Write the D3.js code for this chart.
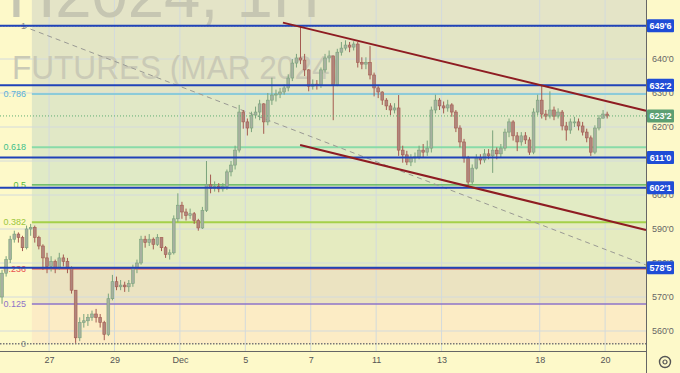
<!DOCTYPE html>
<html>
<head>
<meta charset="utf-8">
<script src="https://cdn.jsdelivr.net/npm/d3@7"></script>
<style>
  html, body { margin: 0; padding: 0; background: #fdf9c9; }
  svg { display: block; font-family: "Liberation Sans", Arial, sans-serif; }
</style>
</head>
<body>
<svg id="chart" width="680" height="373"></svg>
<script>
// hourly bars, open = previous close
const firstOpen = 570;
const closes = [
  577, 581, 587, 588.5, 587.5, 584.5, 590, 590.5, 587.5, 585,
  581.5, 579, 580.5, 578.5, 581.5, 580.5, 578.5, 572, 558, 562.5,
  563, 564, 565, 564, 562.5, 559, 569.5, 574.5, 573, 573.5,
  573, 574, 578.5, 580, 587, 586, 587, 585.5, 587.5, 584.5,
  582.5, 583, 593, 597, 595, 594, 594.5, 592.5, 590.3, 595.5,
  603, 602, 602.5, 601.8, 602.5, 606.8, 608.8, 613.2, 624.4, 621.5,
  619.7, 623.5, 624.4, 626.8, 621.5, 627.9, 629.4, 629.7, 630.3, 631.5,
  634.4, 638.8, 640.3, 639.7, 636.8, 632, 632.6, 632.4, 636.8, 640.3,
  640.9, 632.4, 642, 643.2, 644.1, 643.5, 644.4, 639, 638.5, 639,
  635.3, 631.5, 630.3, 627.9, 626.2, 625, 625.6, 613.2, 611.8, 609.7,
  610.9, 611.2, 613.2, 612.6, 613.8, 625, 627.9, 626.2, 625.6, 626.5,
  624.4, 619.7, 615.6, 610.9, 603.8, 607.9, 610.9, 610.3, 612.1, 611.5,
  613.2, 612.1, 613.8, 618.5, 621.5, 617.4, 615.6, 617.4, 616.2, 612.6,
  624.4, 627.9, 623.8, 623.2, 625, 623.2, 624.4, 620.3, 619.1, 621.5,
  621.5, 620.3, 618.5, 616.8, 612.6, 619.7, 622.6, 623.8, 623.25
];
const highs = [
  578, 582, 588, 589.5, 589, 588, 591, 591.5, 591, 588,
  585.5, 583, 582, 581, 583, 582.5, 581.5, 579, 572, 564,
  565, 565, 566, 566.5, 565, 563, 571, 576.5, 576, 575,
  574.5, 575, 579.5, 581, 588, 588, 588.5, 587.5, 588.5, 587.5,
  585, 584, 594, 600.5, 598, 596, 596, 595, 593, 596.5,
  610, 606, 604, 603.5, 603.5, 607.5, 610, 614.5, 626.5, 625,
  622.5, 624.5, 626, 628, 627, 630, 634.5, 631, 631.5, 632.5,
  635.5, 640, 641.5, 649.75, 641.5, 637, 634, 633.8, 637.5, 641.5,
  642.5, 641, 643, 645, 645.5, 645, 645.2, 645, 640.5, 640.5,
  643.8, 636, 632, 630.5, 628.5, 627, 627, 629.4, 614.5, 613,
  612, 612.5, 614.5, 615, 616, 626, 629.5, 628.5, 627.5, 628,
  627, 625, 620.5, 616.5, 611.5, 609, 612, 612, 613.5, 613.5,
  619, 614, 615, 619.5, 622.5, 622, 618.5, 618.5, 618.5, 617,
  625.5, 629.5, 632.2, 625, 630.5, 626, 625.5, 625, 621.5, 622.5,
  623, 622.5, 621.5, 619.5, 617.5, 620.5, 623.5, 625, 624.5
];
const lows = [
  568, 576, 580, 586, 586, 583.5, 584, 588, 586, 584,
  578, 577, 577.5, 577, 578, 579, 577, 571, 556.5, 557,
  561, 561.5, 563, 562.5, 561, 557.3, 558.5, 569, 572, 572,
  571.5, 571.5, 573, 577, 579.5, 584.5, 585, 584, 585, 583.5,
  581.5, 581, 582.5, 592, 593, 592.5, 593, 591.5, 589.5, 590,
  595, 600.5, 601, 600.8, 601, 601.5, 605.5, 607.5, 612.5, 619.5,
  617.5, 618.5, 622.5, 622, 618, 620.5, 626.5, 627.5, 628.5, 629.5,
  630.5, 633.5, 637.5, 638.5, 635, 630.5, 631, 631, 631.5, 636,
  639, 622, 632, 641, 642.5, 642, 642.5, 637.5, 637, 637,
  634, 629, 628.5, 626.5, 625, 623.5, 624, 611.5, 609.5, 608.8,
  608.5, 609.5, 610.5, 611, 611.5, 612.5, 624, 625, 624, 624.5,
  623, 618.5, 614, 609.5, 602.2, 603, 607.5, 609, 609.5, 610.5,
  606.5, 610.5, 611, 613, 617, 616, 612.9, 614.5, 615, 611.8,
  612, 623.5, 622.5, 622, 622.5, 622, 622.5, 619, 616, 618,
  620, 619, 617.5, 615.5, 611.5, 612, 619, 622.5, 622.5
];

// x axis: bar slots, day labels at session starts
const dateTicks = [12, 28, 44, 60, 76, 92, 108, 132, 148];
const dateLabels = ['27', '29', 'Dec', '5', '7', '11', '13', '18', '20'];
const priceTicks = [560, 570, 580, 590, 600, 610, 620, 630, 640];

// fibonacci retracement
const fibLow = 556.25;
const fibHigh = 649.75;
const fibStart = 7.8;
const fibLevels = [1, 0.786, 0.618, 0.5, 0.382, 0.236, 0.125, 0];
const fibLineColors = ['#8a8a8a', '#8ccbd8', '#88dba8', '#4caf50', '#a5d04a', '#e04848', '#8e74c8', '#777777'];
const fibTextColors = ['#8a8a8a', '#5bb0d8', '#3fc08a', '#58bb3a', '#9cc63a', '#e85050', '#8e74c8', '#888888'];
const fibFills = ['#e3e5c5', '#e1e8c6', '#e0eac6', '#e2ebc4', '#e5ebc0', '#ebe3c1', '#fcecc5'];

// horizontal levels + last price
const levels = [649.75, 632.25, 611, 602.125, 578.625];
const lastPrice = 623.25;

// drawn lines [slot, price]
const upperTrend = [[69.2, 650.7], [158, 624.8]];
const lowerTrend = [[73.4, 614.7], [158, 589.7]];
const fibTrend = [[5.4, 649.75], [158, 579.4]];

const plotW = 646;
const plotH = 351;

const x = d3.scaleLinear().domain([0, 158]).range([0, plotW]);
const y = d3.scaleLinear().domain([560, 640]).range([331, 59]);

const fmt = p => `${Math.floor(p)}'${Math.round((p - Math.floor(p)) * 8)}`;
const fibPrice = f => fibLow + (fibHigh - fibLow) * f;

const svg = d3.select('#chart');

svg.append('rect').attr('width', 680).attr('height', 373).attr('fill', '#fdf9c9');

// fib bands
const fx0 = x(fibStart);
svg.append('rect')
    .attr('x', fx0).attr('y', 0)
    .attr('width', plotW - fx0).attr('height', y(fibHigh))
    .attr('fill', '#e4e4c7');
fibFills.forEach((c, i) => {
  const top = y(fibPrice(fibLevels[i]));
  const bot = y(fibPrice(fibLevels[i + 1]));
  svg.append('rect')
      .attr('x', fx0).attr('y', top)
      .attr('width', plotW - fx0).attr('height', bot - top)
      .attr('fill', c);
});

// grid
const grid = svg.append('g').attr('stroke', '#d3dadc').attr('stroke-width', 1);
dateTicks.forEach((t) => {
  grid.append('line').attr('x1', x(t)).attr('x2', x(t)).attr('y1', 0).attr('y2', plotH);
});
priceTicks.forEach((p) => {
  grid.append('line').attr('x1', 0).attr('x2', plotW).attr('y1', y(p)).attr('y2', y(p));
});

// watermark
svg.append('text')
    .attr('x', 8).attr('y', 17)
    .attr('font-size', 66)
    .attr('textLength', 312).attr('lengthAdjust', 'spacingAndGlyphs')
    .attr('fill', '#c6c6b2')
    .text('H2024, 1H');
svg.append('text')
    .attr('x', 12).attr('y', 79)
    .attr('font-size', 34)
    .attr('textLength', 328).attr('lengthAdjust', 'spacingAndGlyphs')
    .attr('fill', '#cacab6')
    .text('FUTURES (MAR 2024)');

// fib lines + labels
fibLevels.forEach((f, i) => {
  const py = y(fibPrice(f));
  const dotted = f === 0 || f === 1;
  svg.append('line')
      .attr('x1', dotted ? 0 : fx0).attr('x2', plotW)
      .attr('y1', py).attr('y2', py)
      .attr('stroke', fibLineColors[i])
      .attr('stroke-width', dotted ? 1.5 : (f === 0.786 || f === 0.618 || f === 0.382 ? 2 : 1.3))
      .attr('stroke-dasharray', dotted ? '1.5,1.5' : null);
  svg.append('text')
      .attr('x', 26).attr('y', py + 3)
      .attr('text-anchor', 'end')
      .attr('font-size', 9)
      .attr('fill', fibTextColors[i])
      .text(f);
});

const line = d3.line().x(d => x(d[0])).y(d => y(d[1]));

svg.append('path')
    .attr('d', line(fibTrend))
    .attr('fill', 'none')
    .attr('stroke', '#9a9a94')
    .attr('stroke-width', 1)
    .attr('stroke-dasharray', '5,4');

// candles (muted, like under the fib shading)
const bars = closes.map((c, i) => {
  const o = i === 0 ? firstOpen : closes[i - 1];
  return { i, o, c, h: Math.max(highs[i], o, c), l: Math.min(lows[i], o, c) };
});

const candles = svg.append('g').selectAll('g')
  .data(bars)
  .enter().append('g');

candles.append('line')
    .attr('x1', d => x(d.i + 0.5)).attr('x2', d => x(d.i + 0.5))
    .attr('y1', d => y(d.h)).attr('y2', d => y(d.l))
    .attr('stroke', d => (d.c >= d.o ? '#7aa37c' : '#a45a50'))
    .attr('stroke-width', 1);

candles.append('rect')
    .attr('x', d => x(d.i + 0.5) - 1.4)
    .attr('width', 2.8)
    .attr('y', d => y(Math.max(d.o, d.c)))
    .attr('height', d => Math.max(1, Math.abs(y(d.o) - y(d.c))))
    .attr('fill', d => (d.c >= d.o ? '#a7b0a0' : '#b0857c'))
    .attr('stroke', d => (d.c >= d.o ? '#7aa37c' : '#a45a50'))
    .attr('stroke-width', 0.6);

// horizontal levels
levels.forEach((p) => {
  svg.append('line')
      .attr('x1', 0).attr('x2', plotW)
      .attr('y1', y(p)).attr('y2', y(p))
      .attr('stroke', '#2043b8')
      .attr('stroke-width', 2);
});

svg.append('line')
    .attr('x1', 0).attr('x2', plotW)
    .attr('y1', y(lastPrice)).attr('y2', y(lastPrice))
    .attr('stroke', '#5fae73')
    .attr('stroke-width', 1)
    .attr('stroke-dasharray', '1,2');

// trend channel
[upperTrend, lowerTrend].forEach((t) => {
  svg.append('path')
      .attr('d', line(t))
      .attr('fill', 'none')
      .attr('stroke', '#8e1c22')
      .attr('stroke-width', 2);
});

// axes
const yAxis = d3.axisRight(y)
  .tickValues(priceTicks)
  .tickFormat(fmt)
  .tickSize(0)
  .tickPadding(6);

const yg = svg.append('g')
    .attr('transform', `translate(${plotW},0)`)
    .call(yAxis);
yg.select('.domain').remove();
yg.selectAll('text').attr('font-size', 9).attr('fill', '#666').attr('font-family', null);

const xAxis = d3.axisBottom(x)
  .tickValues(dateTicks)
  .tickFormat((d, i) => dateLabels[i])
  .tickSize(0)
  .tickPadding(6);

const xg = svg.append('g')
    .attr('transform', `translate(0,${plotH})`)
    .call(xAxis);
xg.select('.domain').remove();
xg.selectAll('text').attr('font-size', 9).attr('fill', '#555').attr('font-family', null);

svg.append('line')
    .attr('x1', 0).attr('x2', plotW)
    .attr('y1', plotH + 0.5).attr('y2', plotH + 0.5)
    .attr('stroke', '#666');
svg.append('line')
    .attr('x1', plotW + 0.5).attr('x2', plotW + 0.5)
    .attr('y1', 0).attr('y2', 373)
    .attr('stroke', '#666');

// price boxes
const tag = (p, fill) => {
  const g = svg.append('g').attr('transform', `translate(${plotW + 1},${y(p)})`);
  g.append('rect')
      .attr('x', 0).attr('y', -6.5)
      .attr('width', 27).attr('height', 13)
      .attr('rx', 1)
      .attr('fill', fill);
  g.append('text')
      .attr('x', 13.5).attr('y', 3.3)
      .attr('text-anchor', 'middle')
      .attr('font-size', 9)
      .attr('font-weight', 'bold')
      .attr('fill', '#fff')
      .text(fmt(p));
};
levels.forEach(p => tag(p, '#1f4dd6'));
tag(lastPrice, '#5c9f72');

// settings icon
const icon = svg.append('g').attr('transform', 'translate(665,362)');
icon.append('circle').attr('r', 5.5).attr('fill', 'none').attr('stroke', '#555').attr('stroke-width', 1.4);
icon.append('circle').attr('r', 2).attr('fill', 'none').attr('stroke', '#555').attr('stroke-width', 1.2);
</script>
</body>
</html>
